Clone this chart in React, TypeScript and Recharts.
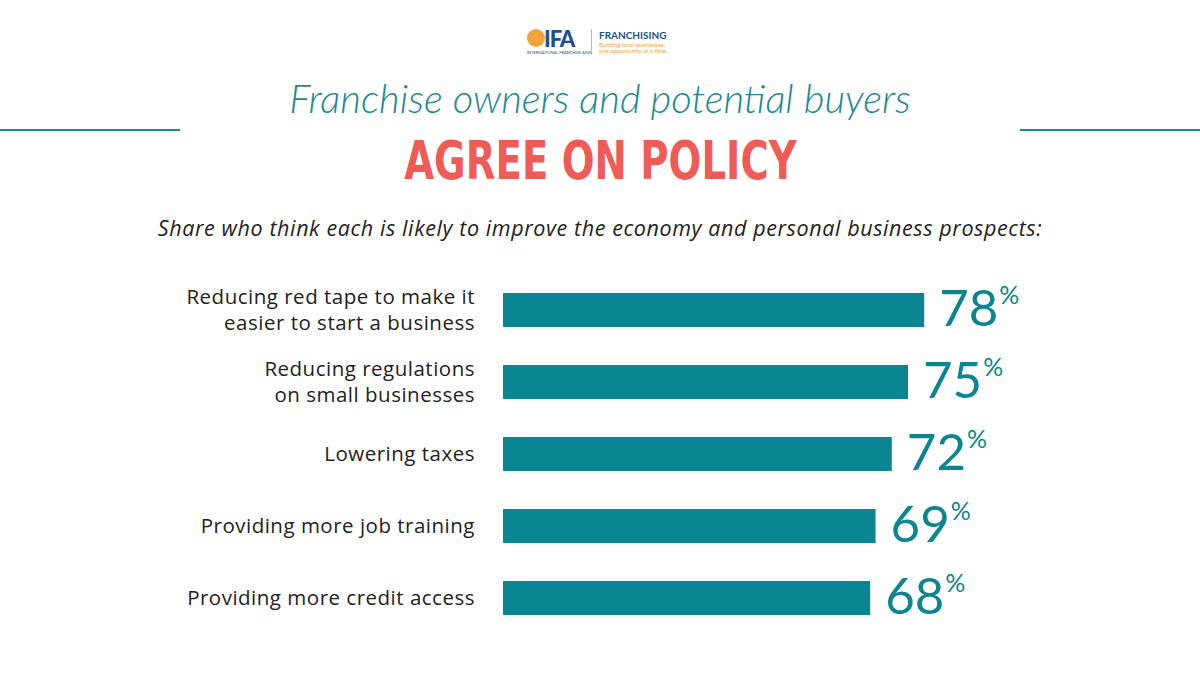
import React from "react";
import { BarChart, Bar, XAxis, YAxis, LabelList } from "recharts";

const categories = [
  "Reducing red tape to make it\neasier to start a business",
  "Reducing regulations\non small businesses",
  "Lowering taxes",
  "Providing more job training",
  "Providing more credit access",
];
const shares = [78, 75, 72, 69, 68];

const data = categories.map((c, i) => ({ category: c, share: shares[i] }));

const TEAL = "#0b8592";
const FONT = "Lato, 'Open Sans', sans-serif";
const BODY = "'Open Sans', Lato, sans-serif";

const CategoryTick = (props: any) => {
  const { x, y, payload } = props;
  const lines = String(payload.value).split("\n");
  const lh = 26;
  const start = y - ((lines.length - 1) * lh) / 2 + 7;
  return (
    <text x={x} y={start} textAnchor="end" fill="#222" fontSize={20.5} letterSpacing={0.5} fontFamily={BODY}>
      {lines.map((l, i) => (
        <tspan key={i} x={x} y={start + i * lh}>
          {l}
        </tspan>
      ))}
    </text>
  );
};

const ValueLabel = (props: any) => {
  const { x, y, width, height, value } = props;
  const tx = x + width + 15;
  const ty = y + height / 2 + 16;
  return (
    <text x={tx} y={ty} fill={TEAL} fontFamily={FONT} fontSize={51}>
      {value}
      <tspan fontSize={25} dy={-22} dx={1}>%</tspan>
    </text>
  );
};

const Logo = () => (
  <div style={{ position: "absolute", left: 527, top: 26, width: 150, height: 30, fontFamily: FONT }}>
    <div style={{ position: "absolute", left: 0, top: 3, width: 18, height: 18, borderRadius: 9, background: "#f2a33a" }} />
    <div style={{ position: "absolute", left: 17, top: -1, fontSize: 22, fontWeight: 900, color: "#1d4f91", letterSpacing: -1 }}>IFA</div>
    <div style={{ position: "absolute", left: 0, top: 24, fontSize: 8, color: "#1d4f91", whiteSpace: "nowrap", transform: "scale(0.5)", transformOrigin: "0 0" }}>INTERNATIONAL FRANCHISE ASSN</div>
    <div style={{ position: "absolute", left: 64, top: 3, width: 1, height: 22, background: "#bbb" }} />
    <div style={{ position: "absolute", left: 72, top: 3, fontSize: 10, fontWeight: 700, color: "#1d4f91" }}>FRANCHISING</div>
    <div style={{ position: "absolute", left: 72, top: 15, fontSize: 12, color: "#f2a33a", lineHeight: "13px", whiteSpace: "nowrap", transform: "scale(0.5)", transformOrigin: "0 0" }}>
      Building local businesses,<br />one opportunity at a time.
    </div>
  </div>
);

export default function App() {
  return (
    <div style={{ position: "absolute", left: 0, top: 0, width: 1200, height: 675, background: "#fff", overflow: "hidden" }}>
      <Logo />
      <div style={{ position: "absolute", left: 0, top: 74, width: 1200, textAlign: "center", fontFamily: FONT, fontStyle: "italic", fontWeight: 300, fontSize: 40, color: "#1a8a93" }}>
        Franchise owners and potential buyers
      </div>
      <div style={{ position: "absolute", left: 0, top: 129, width: 180, height: 2, background: "#1a8a93" }} />
      <div style={{ position: "absolute", left: 1020, top: 129, width: 180, height: 2, background: "#1a8a93" }} />
      <div style={{ position: "absolute", left: 0, top: 129, width: 1200, textAlign: "center" }}>
        <span style={{ display: "inline-block", fontFamily: "'DejaVu Sans', sans-serif", fontWeight: 700, fontSize: 54, color: "#ef5b57", transform: "scaleX(0.715)", whiteSpace: "nowrap" }}>
          AGREE ON POLICY
        </span>
      </div>
      <div style={{ position: "absolute", left: 0, top: 213, width: 1200, textAlign: "center", fontFamily: BODY, fontStyle: "italic", fontSize: 21.5, letterSpacing: 0.6, color: "#222", whiteSpace: "nowrap" }}>
        Share who think each is likely to improve the economy and personal business prospects:
      </div>
      <div style={{ position: "absolute", left: 0, top: 0 }}>
        <BarChart
          width={1200}
          height={675}
          data={data}
          layout="vertical"
          margin={{ top: 274, right: 157, bottom: 41, left: 0 }}
          barCategoryGap={0}
        >
          <XAxis type="number" domain={[0, 100]} hide />
          <YAxis
            type="category"
            dataKey="category"
            width={503}
            axisLine={false}
            tickLine={false}
            tickMargin={22}
            tick={<CategoryTick />}
            interval={0}
          />
          <Bar dataKey="share" fill={TEAL} barSize={34} isAnimationActive={false}>
            <LabelList dataKey="share" content={<ValueLabel />} />
          </Bar>
        </BarChart>
      </div>
    </div>
  );
}
